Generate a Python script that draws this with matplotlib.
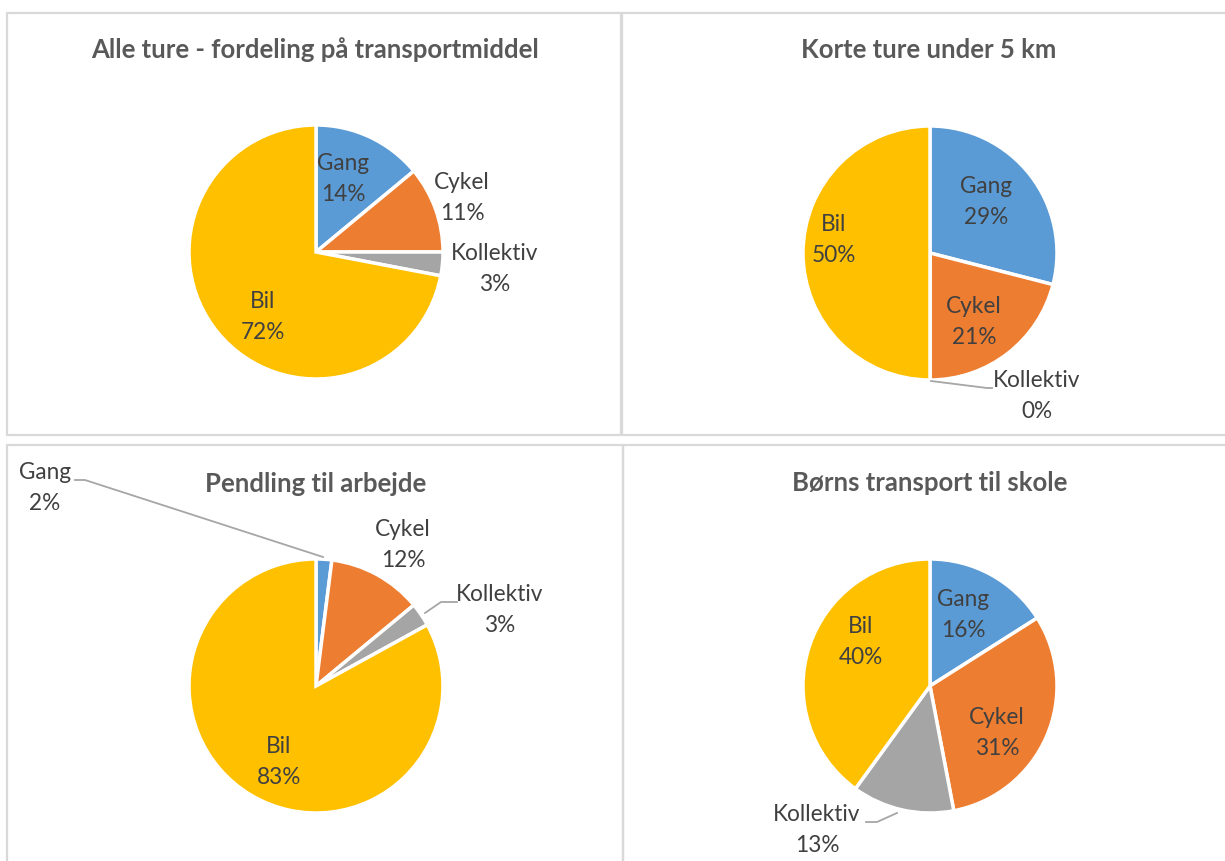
import matplotlib.pyplot as plt
from matplotlib.patches import Rectangle

plt.rcParams['font.family'] = ['Lato', 'DejaVu Sans']

categories = ["Gang", "Cykel", "Kollektiv", "Bil"]
alle = [14, 11, 3, 72]
korte = [29, 21, 0, 50]
pendling = [2, 12, 3, 83]
skole = [16, 31, 13, 40]
titles = ["Alle ture - fordeling på transportmiddel",
          "Korte ture under 5 km",
          "Pendling til arbejde",
          "Børns transport til skole"]
colors = ['#5b9bd5', '#ed7d31', '#a5a5a5', '#ffc000']

W, H = 1225, 861

# layout, in image pixels (y down)
panels = [
    dict(box=(7, 13, 621, 435), title=(315, 50), center=(316, 252),
         labels=[(343, 179), (462, 198), (495, 269), (263, 317)],
         leaders={}),
    dict(box=(622, 13, 1232, 435), title=(929, 50), center=(930, 253),
         labels=[(986, 202), (974, 322), (1037, 396), (834, 240)],
         leaders={2: [(931, 381), (987, 388), (992, 388)]}),
    dict(box=(7, 445, 623, 870), title=(316, 484), center=(316, 686),
         labels=[(45, 488), (403, 545), (500, 610), (279, 762)],
         leaders={0: [(75, 480), (85, 480), (323, 557)],
                  2: [(457, 602), (441, 602), (425, 613)]}),
    dict(box=(623, 445, 1232, 870), title=(930, 483), center=(930, 686),
         labels=[(963, 615), (997, 733), (817, 830), (861, 642)],
         leaders={2: [(866, 822), (877, 822), (897, 813)]}),
]
data = [alle, korte, pendling, skole]
R = 127

fig = plt.figure(figsize=(W / 100, H / 100), dpi=100)
ax = fig.add_axes([0, 0, 1, 1])

for p, vals, title in zip(panels, data, titles):
    x0, y0, x1, y1 = p['box']
    ax.add_patch(Rectangle((x0, H - y1), x1 - x0, y1 - y0, fill=False,
                           edgecolor='#d9d9d9', linewidth=1.6, zorder=0))
    cx, cy = p['center']
    ax.pie(vals, colors=colors, startangle=90, counterclock=False,
           center=(cx, H - cy), radius=R, frame=True,
           wedgeprops=dict(edgecolor='white', linewidth=2.5))
    ax.text(p['title'][0], H - p['title'][1], title, ha='center', va='center',
            fontsize=18.5, fontweight='bold', color='#595959')
    for i, (cat, v) in enumerate(zip(categories, vals)):
        lx, ly = p['labels'][i]
        ax.text(lx, H - ly, f"{cat}\n{v}%", ha='center', va='center',
                fontsize=16.3, color='#404040', linespacing=1.55)
    for i, pts in p['leaders'].items():
        ax.plot([q[0] for q in pts], [H - q[1] for q in pts],
                color='#a6a6a6', linewidth=1.3)

ax.set_xlim(0, W)
ax.set_ylim(0, H)
ax.set_aspect('equal')
ax.axis('off')

fig.savefig('out.png', dpi=100, facecolor='white')
